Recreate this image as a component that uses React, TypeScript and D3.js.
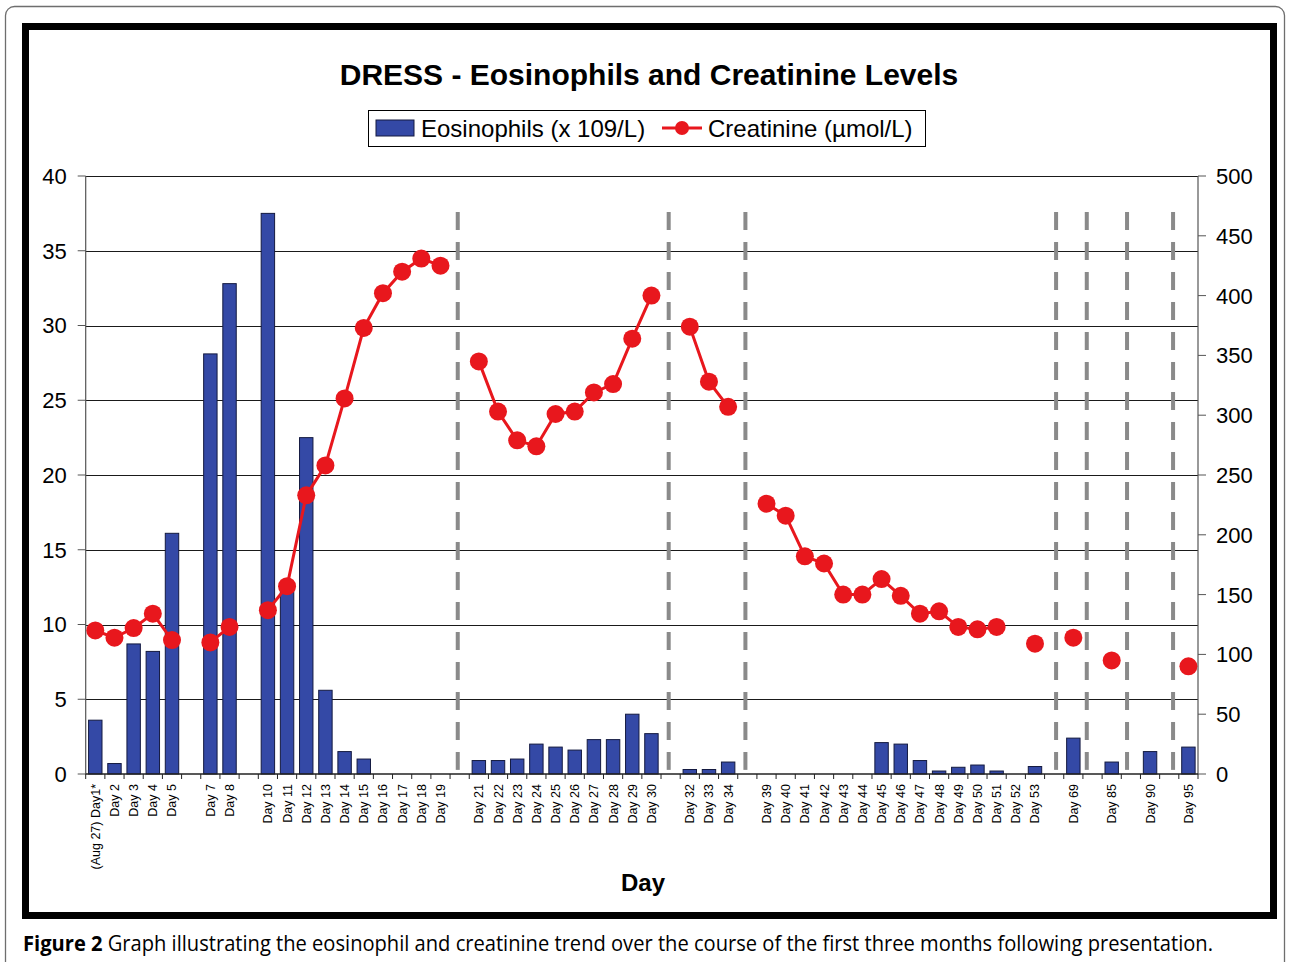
import React, { useEffect, useRef } from 'react';
import * as d3 from 'd3';

// ── Data (one slot per category, "" = empty spacer slot) ─────────────────
const dayLabels: string[] = [
  '(Aug 27) Day1*', 'Day 2', 'Day 3', 'Day 4', 'Day 5', '',
  'Day 7', 'Day 8', '',
  'Day 10', 'Day 11', 'Day 12', 'Day 13', 'Day 14', 'Day 15', 'Day 16', 'Day 17', 'Day 18', 'Day 19', '',
  'Day 21', 'Day 22', 'Day 23', 'Day 24', 'Day 25', 'Day 26', 'Day 27', 'Day 28', 'Day 29', 'Day 30', '',
  'Day 32', 'Day 33', 'Day 34', '',
  'Day 39', 'Day 40', 'Day 41', 'Day 42', 'Day 43', 'Day 44', 'Day 45', 'Day 46', 'Day 47', 'Day 48',
  'Day 49', 'Day 50', 'Day 51', 'Day 52', 'Day 53', '',
  'Day 69', '', 'Day 85', '', 'Day 90', '', 'Day 95',
];

// Eosinophils (x 10^9/L), left axis
const eosinophils: (number | null)[] = [
  3.6, 0.7, 8.7, 8.2, 16.1, null,
  28.1, 32.8, null,
  37.5, 12.3, 22.5, 5.6, 1.5, 1.0, 0, 0, 0, 0, null,
  0.9, 0.9, 1.0, 2.0, 1.8, 1.6, 2.3, 2.3, 4.0, 2.7, null,
  0.3, 0.3, 0.8, null,
  0, 0, 0, 0, 0, 0, 2.1, 2.0, 0.9, 0.2, 0.45, 0.6, 0.2, 0, 0.5, null,
  2.4, null, 0.8, null, 1.5, null, 1.8,
];

// Creatinine (µmol/L), right axis
const creatinine: (number | null)[] = [
  120, 114, 122, 134, 112, null,
  110, 123, null,
  137, 157, 233, 258, 314, 373, 402, 420, 431, 425, null,
  345, 303, 279, 274, 301, 303, 319, 326, 364, 400, null,
  374, 328, 307, null,
  226, 216, 182, 176, 150, 150, 163, 149, 134, 136, 123, 121, 123, null, 109, null,
  114, null, 95, null, null, null, 90,
];

// dashed separators, in slot units from the left edge of the plot
const dividerSlots = [19.4, 30.4, 34.4, 50.6, 52.2, 54.3, 56.7];
const dividerTop = 470; // right-axis value where the dashes start

const leftTicks = [0, 5, 10, 15, 20, 25, 30, 35, 40];
const rightTicks = [0, 50, 100, 150, 200, 250, 300, 350, 400, 450, 500];

const FONT = '"Liberation Sans", Arial, sans-serif';
const BLUE = '#3449a6';
const RED = '#e8171d';

const DressChart = () => {
  const svgRef = useRef<SVGSVGElement | null>(null);

  useEffect(() => {
    const svg = d3.select(svgRef.current);
    svg.selectAll('*').remove();

    const W = 1289;
    const H = 962;
    const plot = { left: 85.7, right: 1198, top: 176, bottom: 774 };

    // ── Frames ───────────────────────────────────────────────────────────
    svg.append('rect').attr('width', W).attr('height', H).attr('fill', '#fff');
    svg.append('rect')
      .attr('x', 5.5).attr('y', 6.5).attr('width', 1279).attr('height', 980)
      .attr('rx', 9).attr('fill', 'none').attr('stroke', '#6e6e6e').attr('stroke-width', 1.3);
    svg.append('rect')
      .attr('x', 25.5).attr('y', 26.5).attr('width', 1248).attr('height', 889)
      .attr('fill', '#fff').attr('stroke', '#000').attr('stroke-width', 7);

    // ── Scales ───────────────────────────────────────────────────────────
    const x = d3.scaleBand<number>()
      .domain(d3.range(dayLabels.length))
      .range([plot.left, plot.right])
      .paddingInner(0.3)
      .paddingOuter(0.15);
    const step = x.step();
    const cx = (i: number) => (x(i) as number) + x.bandwidth() / 2;

    const yL = d3.scaleLinear().domain([0, 40]).range([plot.bottom, plot.top]);
    const yR = d3.scaleLinear().domain([0, 500]).range([plot.bottom, plot.top]);

    // ── Gridlines ────────────────────────────────────────────────────────
    svg.append('g')
      .selectAll('line')
      .data(leftTicks.slice(1))
      .join('line')
      .attr('x1', plot.left).attr('x2', plot.right)
      .attr('y1', (d) => Math.round(yL(d)) + 0.5).attr('y2', (d) => Math.round(yL(d)) + 0.5)
      .attr('stroke', '#1a1a1a').attr('stroke-width', 1);

    // ── Dashed separators ────────────────────────────────────────────────
    svg.append('g')
      .selectAll('line')
      .data(dividerSlots)
      .join('line')
      .attr('x1', (d) => plot.left + d * step).attr('x2', (d) => plot.left + d * step)
      .attr('y1', yR(dividerTop)).attr('y2', plot.bottom)
      .attr('stroke', '#8a8a8a').attr('stroke-width', 4)
      .attr('stroke-dasharray', '18,12');

    // ── Bars ─────────────────────────────────────────────────────────────
    svg.append('g')
      .selectAll('rect')
      .data(eosinophils.map((v, i) => ({ v, i })).filter((d) => d.v != null && d.v > 0))
      .join('rect')
      .attr('x', (d) => x(d.i) as number)
      .attr('width', x.bandwidth())
      .attr('y', (d) => yL(d.v as number))
      .attr('height', (d) => plot.bottom - yL(d.v as number))
      .attr('fill', BLUE)
      .attr('stroke', '#141a40').attr('stroke-width', 1);

    // ── Axes lines ───────────────────────────────────────────────────────
    const axisColor = '#555';
    svg.append('line')
      .attr('x1', plot.left).attr('x2', plot.left).attr('y1', plot.top).attr('y2', plot.bottom)
      .attr('stroke', axisColor).attr('stroke-width', 1.2);
    svg.append('line')
      .attr('x1', plot.right).attr('x2', plot.right).attr('y1', plot.top).attr('y2', plot.bottom)
      .attr('stroke', axisColor).attr('stroke-width', 1.2);
    svg.append('line')
      .attr('x1', plot.left).attr('x2', plot.right).attr('y1', plot.bottom).attr('y2', plot.bottom)
      .attr('stroke', '#222').attr('stroke-width', 1.3);

    // left ticks + labels
    const gl = svg.append('g').attr('font-family', FONT).attr('font-size', 22);
    leftTicks.forEach((t) => {
      gl.append('line')
        .attr('x1', plot.left - 8).attr('x2', plot.left).attr('y1', yL(t)).attr('y2', yL(t))
        .attr('stroke', axisColor);
      gl.append('text')
        .attr('x', plot.left - 19).attr('y', yL(t)).attr('dy', '0.36em')
        .attr('text-anchor', 'end').text(t);
    });

    // right ticks + labels
    const gr = svg.append('g').attr('font-family', FONT).attr('font-size', 22);
    rightTicks.forEach((t) => {
      gr.append('line')
        .attr('x1', plot.right).attr('x2', plot.right + 8).attr('y1', yR(t)).attr('y2', yR(t))
        .attr('stroke', axisColor);
      gr.append('text')
        .attr('x', plot.right + 18).attr('y', yR(t)).attr('dy', '0.36em')
        .attr('text-anchor', 'start').text(t);
    });

    // bottom ticks at slot boundaries
    svg.append('g')
      .selectAll('line')
      .data(d3.range(dayLabels.length + 1))
      .join('line')
      .attr('x1', (i) => plot.left + i * step).attr('x2', (i) => plot.left + i * step)
      .attr('y1', plot.bottom).attr('y2', plot.bottom + 5)
      .attr('stroke', '#222');

    // rotated day labels
    svg.append('g')
      .attr('font-family', FONT).attr('font-size', 12.5)
      .selectAll('text')
      .data(dayLabels.map((l, i) => ({ l, i })).filter((d) => d.l !== ''))
      .join('text')
      .attr('transform', (d) => `translate(${cx(d.i) + 4.5},${plot.bottom + 10}) rotate(-90)`)
      .attr('text-anchor', 'end')
      .text((d) => d.l);

    // ── Creatinine line + markers ────────────────────────────────────────
    const line = d3.line<number | null>()
      .defined((d) => d != null)
      .x((_d, i) => cx(i))
      .y((d) => yR(d as number));
    svg.append('path')
      .datum(creatinine)
      .attr('d', line)
      .attr('fill', 'none').attr('stroke', RED).attr('stroke-width', 3);
    svg.append('g')
      .selectAll('circle')
      .data(creatinine.map((v, i) => ({ v, i })).filter((d) => d.v != null))
      .join('circle')
      .attr('cx', (d) => cx(d.i))
      .attr('cy', (d) => yR(d.v as number))
      .attr('r', 9)
      .attr('fill', RED);

    // ── Titles ───────────────────────────────────────────────────────────
    svg.append('text')
      .attr('x', 649).attr('y', 85)
      .attr('text-anchor', 'middle')
      .attr('font-family', FONT).attr('font-size', 30).attr('font-weight', 'bold')
      .text('DRESS - Eosinophils and Creatinine Levels');

    svg.append('text')
      .attr('x', 643).attr('y', 891)
      .attr('text-anchor', 'middle')
      .attr('font-family', FONT).attr('font-size', 24).attr('font-weight', 'bold')
      .text('Day');

    // ── Legend ───────────────────────────────────────────────────────────
    const lg = svg.append('g').attr('font-family', FONT).attr('font-size', 24);
    lg.append('rect')
      .attr('x', 368.5).attr('y', 110.5).attr('width', 557).attr('height', 36)
      .attr('fill', '#fff').attr('stroke', '#000').attr('stroke-width', 1);
    lg.append('rect')
      .attr('x', 376).attr('y', 120).attr('width', 38).attr('height', 16)
      .attr('fill', BLUE).attr('stroke', '#141a40');
    lg.append('text').attr('x', 421).attr('y', 137).text('Eosinophils (x 109/L)');
    lg.append('line')
      .attr('x1', 662).attr('x2', 702).attr('y1', 128).attr('y2', 128)
      .attr('stroke', RED).attr('stroke-width', 3);
    lg.append('circle').attr('cx', 682).attr('cy', 128).attr('r', 7).attr('fill', RED);
    lg.append('text').attr('x', 708).attr('y', 137).text('Creatinine (µmol/L)');

    // ── Caption ──────────────────────────────────────────────────────────
    const cap = svg.append('text')
      .attr('x', 23).attr('y', 951)
      .attr('font-family', '"Open Sans", "Noto Sans", sans-serif')
      .attr('font-size', 21)
      .attr('textLength', 1190)
      .attr('lengthAdjust', 'spacingAndGlyphs');
    cap.append('tspan').attr('font-weight', 'bold').text('Figure 2');
    cap.append('tspan').text(' Graph illustrating the eosinophil and creatinine trend over the course of the first three months following presentation.');
  }, []);

  return <svg ref={svgRef} width={1289} height={962} style={{ display: 'block' }} />;
};

export default function App() {
  return (
    <div style={{ position: 'absolute', left: 0, top: 0, width: 1289, height: 962, overflow: 'hidden' }}>
      <DressChart />
    </div>
  );
}
